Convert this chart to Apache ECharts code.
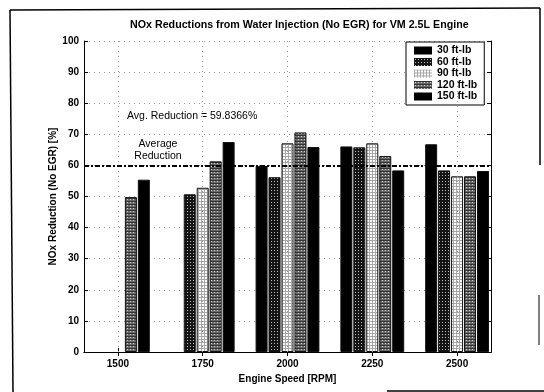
<!DOCTYPE html>
<html>
<head>
<meta charset="utf-8">
<script src="https://cdn.jsdelivr.net/npm/echarts@6/dist/echarts.min.js"></script>
<style>
  html, body { margin: 0; padding: 0; background: #fff; }
  #chart { width: 544px; height: 392px; }
</style>
</head>
<body>
<div id="chart"></div>
<script>
// Engine speeds (RPM) where measurements were taken
const engineSpeeds = [1500, 1750, 2000, 2250, 2500];
const xTickValues = [1500, 1750, 2000, 2250, 2500];

// NOx reduction [%] per load; '-' = not measured
const torque30 = ['-', '-', 59.8, 66.1, 66.8];
const torque60 = ['-', 50.7, 56.2, 65.8, 58.4];
const torque90 = ['-', 52.8, 67.1, 67.1, 56.5];
const torque120 = [49.8, 61.3, 70.6, 63.0, 56.5];
const torque150 = [55.4, 67.5, 65.9, 58.4, 58.2];

const loadNames = ['30 ft-lb', '60 ft-lb', '90 ft-lb', '120 ft-lb', '150 ft-lb'];
const avgReduction = 59.8366;

// Small tiled fills that imitate the printed hatch patterns
function tile(size, draw) {
  const c = document.createElement('canvas');
  c.width = size; c.height = size;
  draw(c.getContext('2d'));
  return { image: c, repeat: 'repeat' };
}
const fillDark = tile(3, g => {
  g.fillStyle = '#141414'; g.fillRect(0, 0, 3, 3);
  g.fillStyle = '#bdbdbd'; g.fillRect(1, 1, 1, 1);
});
const fillLight = tile(3, g => {
  g.fillStyle = '#ffffff'; g.fillRect(0, 0, 3, 3);
  g.fillStyle = '#a8a8a8'; g.fillRect(0, 0, 3, 1); g.fillRect(0, 0, 1, 3);
});
const fillMid = tile(3, g => {
  g.fillStyle = '#6a6a6a'; g.fillRect(0, 0, 3, 3);
  g.fillStyle = '#333333'; g.fillRect(0, 0, 3, 1);
  g.fillStyle = '#d0d0d0'; g.fillRect(1, 1, 1, 1);
});
const fills = ['#000000', fillDark, fillLight, fillMid, '#000000'];
const seriesValues = [torque30, torque60, torque90, torque120, torque150];

const FONT = '"Liberation Sans", Arial, sans-serif';
const gridLine = { color: '#9a9a9a', type: [1, 4], width: 1 };

const barSeries = seriesValues.map((vals, i) => ({
  name: loadNames[i],
  type: 'bar',
  z: 2,
  barWidth: 12,
  barGap: '8%',
  data: engineSpeeds.map((s, k) => [s, vals[k]]),
  itemStyle: { color: fills[i], borderColor: '#111', borderWidth: 1 }
}));

const chart = echarts.init(document.getElementById('chart'), null, { renderer: 'canvas' });
chart.setOption({
  backgroundColor: '#fff',
  animation: false,
  title: {
    text: 'NOx Reductions from Water Injection (No EGR) for VM 2.5L Engine',
    left: 125, top: 15,
    textStyle: { fontFamily: FONT, fontSize: 10.7, fontWeight: 'bold', color: '#000' }
  },
  grid: { left: 84, right: 53, top: 41, bottom: 40, show: false },
  legend: {
    orient: 'vertical',
    left: 406, top: 42,
    padding: [3, 7, 3, 8],
    itemWidth: 18, itemHeight: 8, itemGap: 0.5,
    itemStyle: { borderWidth: 0 },
    backgroundColor: '#fff',
    borderColor: '#000', borderWidth: 1, borderRadius: 0,
    textStyle: { fontFamily: FONT, fontSize: 10.5, fontWeight: 'bold', color: '#000', lineHeight: 11 },
    data: loadNames.map(n => ({ name: n, icon: 'rect' }))
  },
  xAxis: [{
    type: 'value', min: 1400, max: 2600,
    name: 'Engine Speed [RPM]', nameLocation: 'middle', nameGap: 21,
    nameTextStyle: { fontFamily: FONT, fontSize: 10, fontWeight: 'bold', color: '#000' },
    axisLine: { lineStyle: { color: '#000', width: 1 } },
    axisTick: { inside: true, length: 4, customValues: xTickValues, lineStyle: { color: '#000' } },
    axisLabel: {
      customValues: xTickValues, margin: 7, formatter: v => String(v),
      fontFamily: FONT, fontSize: 10, fontWeight: 'bold', color: '#000'
    },
    splitLine: { show: false }
  }, {
    type: 'value', min: 1400, max: 2600, position: 'top',
    axisLine: { lineStyle: { color: '#000', width: 1 } },
    axisTick: { inside: true, length: 4, customValues: xTickValues, lineStyle: { color: '#000' } },
    axisLabel: { show: false },
    splitLine: { show: false }
  }],
  yAxis: [{
    type: 'value', min: 0, max: 100, interval: 10,
    name: 'NOx Reduction (No EGR) [%]', nameLocation: 'middle', nameGap: 26,
    nameMoveOverlap: false,
    nameTextStyle: { fontFamily: FONT, fontSize: 10, fontWeight: 'bold', color: '#000' },
    axisLine: { show: true, lineStyle: { color: '#000', width: 1 } },
    axisTick: { show: true, inside: true, length: 4, lineStyle: { color: '#000' } },
    axisLabel: { margin: 5, fontFamily: FONT, fontSize: 10, fontWeight: 'bold', color: '#000' },
    splitLine: { show: true, lineStyle: gridLine }
  }, {
    type: 'value', min: 0, max: 100, interval: 10, position: 'right',
    axisLine: { show: true, lineStyle: { color: '#000', width: 1 } },
    axisTick: { show: true, inside: true, length: 4, lineStyle: { color: '#000' } },
    axisLabel: { show: false },
    splitLine: { show: false }
  }],
  series: [
    {
      // vertical dotted grid at the speed ticks, kept behind the bars
      name: 'xgrid', type: 'line', z: 1, data: [], silent: true,
      markLine: {
        silent: true, symbol: 'none', label: { show: false },
        lineStyle: gridLine,
        data: xTickValues.map(v => ({ xAxis: v }))
      }
    },
    ...barSeries,
    {
      // average reduction across all operating points
      name: 'avg', type: 'line', z: 10, data: [], silent: true,
      markLine: {
        silent: true, symbol: 'none', label: { show: false },
        lineStyle: { color: '#000', width: 2, type: [5, 2, 2, 2] },
        data: [{ yAxis: avgReduction }]
      }
    }
  ],
  graphic: [
    { type: 'text', left: 127, top: 111,
      style: { text: 'Avg. Reduction = ' + avgReduction + '%', font: '10.5px ' + FONT, fill: '#000' } },
    { type: 'text', x: 158, y: 138,
      style: { text: 'Average\nReduction', font: '10.5px ' + FONT, fill: '#000', align: 'center', lineHeight: 12 } },
    // page frame
    { type: 'line', shape: { x1: 10, y1: 10, x2: 13, y2: 392 }, style: { stroke: '#000', lineWidth: 1.5 } },
    { type: 'line', shape: { x1: 10, y1: 10, x2: 540, y2: 8 }, style: { stroke: '#000', lineWidth: 1.5 } },
    { type: 'line', shape: { x1: 540, y1: 8, x2: 540, y2: 165 }, style: { stroke: '#000', lineWidth: 1.5 } },
    { type: 'line', shape: { x1: 539, y1: 295, x2: 539, y2: 345 }, style: { stroke: '#000', lineWidth: 1 } },
    { type: 'line', shape: { x1: 387, y1: 391, x2: 544, y2: 391 }, style: { stroke: '#000', lineWidth: 1.5 } }
  ]
});
</script>
</body>
</html>
